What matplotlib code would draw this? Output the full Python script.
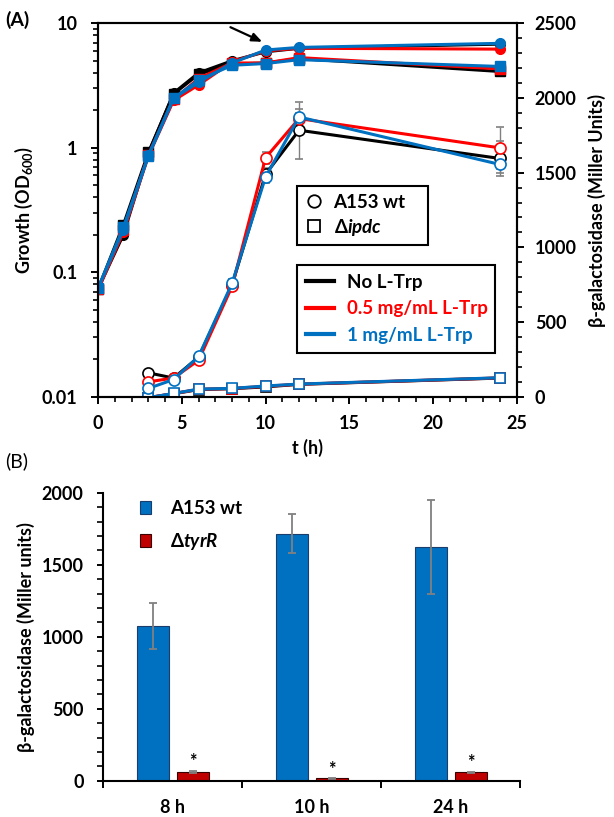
import numpy as np
import matplotlib
matplotlib.use('Agg')
import matplotlib.pyplot as plt
from matplotlib.lines import Line2D
from matplotlib.ticker import MultipleLocator, FixedLocator, NullFormatter, LogLocator

plt.rcParams['font.family'] = ['Lato', 'DejaVu Sans']
plt.rcParams['font.weight'] = 'bold'
plt.rcParams['axes.labelweight'] = 'bold'
plt.rcParams['mathtext.fontset'] = 'custom'
plt.rcParams['mathtext.rm'] = 'Lato:bold'
plt.rcParams['mathtext.it'] = 'Lato:bold:italic'
plt.rcParams['mathtext.bf'] = 'Lato:bold'

# Panel A - growth (OD600) and beta-gal over time
t_h = [0, 1.5, 3, 4.5, 6, 8, 10, 12, 24]
conditions = ['No L-Trp', '0.5 mg/mL L-Trp', '1 mg/mL L-Trp']
colors = ['black', '#FF0000', '#0070C0']

od_wt = [
    [0.074, 0.20, 0.90, 2.75, 4.0, 5.0, 5.9, 6.3, 6.8],
    [0.073, 0.21, 0.86, 2.40, 3.2, 4.9, 6.0, 6.3, 6.2],
    [0.075, 0.22, 0.87, 2.50, 3.35, 4.8, 6.1, 6.4, 6.9],
]
od_ipdc = [
    [0.074, 0.24, 0.92, 2.70, 3.9, 4.7, 4.8, 5.2, 4.1],
    [0.073, 0.22, 0.88, 2.45, 3.6, 4.8, 4.8, 5.3, 4.3],
    [0.075, 0.23, 0.86, 2.50, 3.5, 4.6, 4.75, 5.1, 4.5],
]
nan = np.nan
bgal_wt = [
    [nan, nan, 160, 125, 265, 750, 1490, 1784, 1595],
    [nan, nan, 100, 125, 245, 740, 1600, 1862, 1666],
    [nan, nan, 56, 115, 270, 760, 1472, 1873, 1555],
]
bgal_wt_err = [
    [0, 0, 10, 10, 15, 35, 40, 190, 120],
    [0, 0, 10, 10, 15, 30, 40, 40, 140],
    [0, 0, 10, 10, 15, 30, 40, 50, 60],
]
bgal_ipdc = [
    [nan, nan, -6, 20, 48, 54, 66, 83, 125],
    [nan, nan, -6, 21, 50, 55, 70, 84, 126],
    [nan, nan, -6, 22, 51, 56, 72, 85, 127],
]

# Panel B - beta-gal bars
times = ['8 h', '10 h', '24 h']
bgal_a153 = [1075, 1716, 1625]
bgal_a153_err = [160, 135, 325]
bgal_tyrR = [62, 16, 58]
bgal_tyrR_err = [8, 4, 6]

legfont = {'weight': 'bold', 'size': 13.5}

fig = plt.figure(figsize=(6.14, 8.17), dpi=100)

ax1 = fig.add_axes([0.160, 0.5144, 0.6814, 0.4571])
ax2 = ax1.twinx()

for i, c in enumerate(colors):
    ax1.plot(t_h, od_wt[i], '-o', color=c, mfc=c, mec=c, ms=7, lw=2.2)
    ax1.plot(t_h, od_ipdc[i], '-s', color=c, mfc=c, mec=c, ms=7, lw=2.2)

for i, c in enumerate(colors):
    ax2.errorbar(t_h, bgal_wt[i], yerr=bgal_wt_err[i], fmt='-o', color=c,
                 mfc='white', mec=c, ms=8, mew=1.2, lw=2.2,
                 ecolor='gray', elinewidth=1, capsize=3)
    ax2.plot(t_h, bgal_ipdc[i], '-s', color=c, mfc='white', mec=c,
             ms=7, mew=1.2, lw=2.2)

ax1.set_yscale('log')
ax1.set_ylim(0.01, 10)
ax1.set_xlim(0, 25)
ax2.set_ylim(0, 2500)

ax1.set_yticks([0.01, 0.1, 1, 10])
ax1.set_yticklabels(['0.01', '0.1', '1', '10'])
ax1.yaxis.set_minor_locator(LogLocator(base=10, subs=np.arange(2, 10)))
ax1.yaxis.set_minor_formatter(NullFormatter())
ax1.set_xticks([0, 5, 10, 15, 20, 25])
ax1.xaxis.set_minor_locator(MultipleLocator(1))
ax2.set_yticks([0, 500, 1000, 1500, 2000, 2500])
ax2.yaxis.set_minor_locator(MultipleLocator(100))

for ax in (ax1, ax2):
    ax.tick_params(which='major', direction='out', length=5, width=1.4, labelsize=13)
    ax.tick_params(which='minor', direction='out', length=3.5, width=1.2)
    for sp in ax.spines.values():
        sp.set_linewidth(1.5)
ax1.tick_params(axis='y', which='major', pad=10)
ax1.tick_params(axis='x', which='major', pad=8)
ax2.tick_params(axis='y', which='major', pad=8)

ax1.set_ylabel('Growth (OD$_{600}$)', fontsize=13, fontweight='bold', labelpad=5)
ax2.set_ylabel('β-galactosidase (Miller Units)', fontsize=13, fontweight='bold',
               labelpad=8)
ax1.set_xlabel('t (h)', fontsize=13, fontweight='bold', labelpad=5)

ax1.annotate('', xy=(9.8, 7.1), xytext=(7.9, 9.3),
             arrowprops=dict(arrowstyle='-|>,head_length=0.6,head_width=0.25',
                             color='black', lw=1.6, shrinkA=0, shrinkB=0))

# legends
h1 = [Line2D([], [], marker='o', ls='none', mfc='white', mec='black', ms=9, mew=1.3),
      Line2D([], [], marker='s', ls='none', mfc='white', mec='black', ms=9, mew=1.3)]
leg1 = ax2.legend(h1, ['A153 wt', 'Δ$\\it{ipdc}$'], loc='lower left',
                  bbox_to_anchor=(0.475, 0.406, 0.313, 0.1), mode='expand',
                  prop=legfont, fancybox=False, edgecolor='black', framealpha=1,
                  handlelength=1.0, handletextpad=0.55, borderpad=0.4,
                  labelspacing=0.3, borderaxespad=0)
leg1.get_frame().set_linewidth(1.5)
ax2.add_artist(leg1)

h2 = [Line2D([], [], color=c, lw=3) for c in colors]
leg2 = ax2.legend(h2, conditions, loc='lower left',
                  bbox_to_anchor=(0.475, 0.117, 0.473, 0.1), mode='expand',
                  prop=legfont, fancybox=False, edgecolor='black', framealpha=1,
                  handlelength=1.5, handletextpad=0.65, borderpad=0.5,
                  labelspacing=0.5, borderaxespad=0)
leg2.get_frame().set_linewidth(1.5)
for txt, c in zip(leg2.get_texts(), colors):
    txt.set_color(c)

fig.text(0.008, 0.975, '(A)', fontsize=14, fontweight='bold', va='center')

# Panel B
axb = fig.add_axes([0.168, 0.0444, 0.679, 0.3525])
x = np.arange(len(times))
w = 0.228
axb.bar(x - 0.143, bgal_a153, w, yerr=bgal_a153_err, color='#0070C0',
        edgecolor='#1a3d6b', linewidth=0.8, label='A153 wt',
        error_kw=dict(ecolor='gray', elinewidth=1.3, capsize=3, capthick=1.3))
axb.bar(x + 0.145, bgal_tyrR, w, yerr=bgal_tyrR_err, color='#C00000',
        edgecolor='#3a0000', linewidth=0.8, label='Δ$\\it{tyrR}$',
        error_kw=dict(ecolor='gray', elinewidth=1.3, capsize=3, capthick=1.3))
for xi, v, e in zip(x, bgal_tyrR, bgal_tyrR_err):
    axb.text(xi + 0.145, v + e + 2, '*', ha='center', va='bottom', fontsize=13,
             fontweight='bold')

axb.set_xlim(-0.5, 2.5)
axb.set_ylim(0, 2000)
axb.set_xticks(x)
axb.set_xticklabels(times)
axb.xaxis.set_minor_locator(FixedLocator([-0.5, 0.5, 1.5, 2.5]))
axb.tick_params(axis='x', which='major', length=0, labelsize=13, pad=13)
axb.tick_params(axis='x', which='minor', direction='out', length=5, width=1.4)
axb.set_yticks([0, 500, 1000, 1500, 2000])
axb.yaxis.set_minor_locator(MultipleLocator(100))
axb.tick_params(axis='y', which='major', direction='out', length=4, width=1.4,
                labelsize=13, pad=10)
axb.tick_params(axis='y', which='minor', direction='out', length=4, width=1.2)
axb.spines['top'].set_visible(False)
axb.spines['right'].set_visible(False)
axb.spines['left'].set_linewidth(1.5)
axb.spines['bottom'].set_linewidth(1.5)
axb.set_ylabel('β-galactosidase (Miller units)', fontsize=13, fontweight='bold',
               labelpad=5)

legb = axb.legend(loc='upper left', bbox_to_anchor=(0.07, 1.0), frameon=False,
                  prop=legfont, handlelength=0.6, handleheight=0.7,
                  handletextpad=1.0, labelspacing=0.75, borderaxespad=0)

fig.text(0.008, 0.436, '(B)', fontsize=14, fontweight='normal', va='center')

for ax in (ax1, ax2, axb):
    for lab in ax.get_xticklabels() + ax.get_yticklabels():
        lab.set_fontweight('bold')

fig.savefig('out.png', dpi=100)
